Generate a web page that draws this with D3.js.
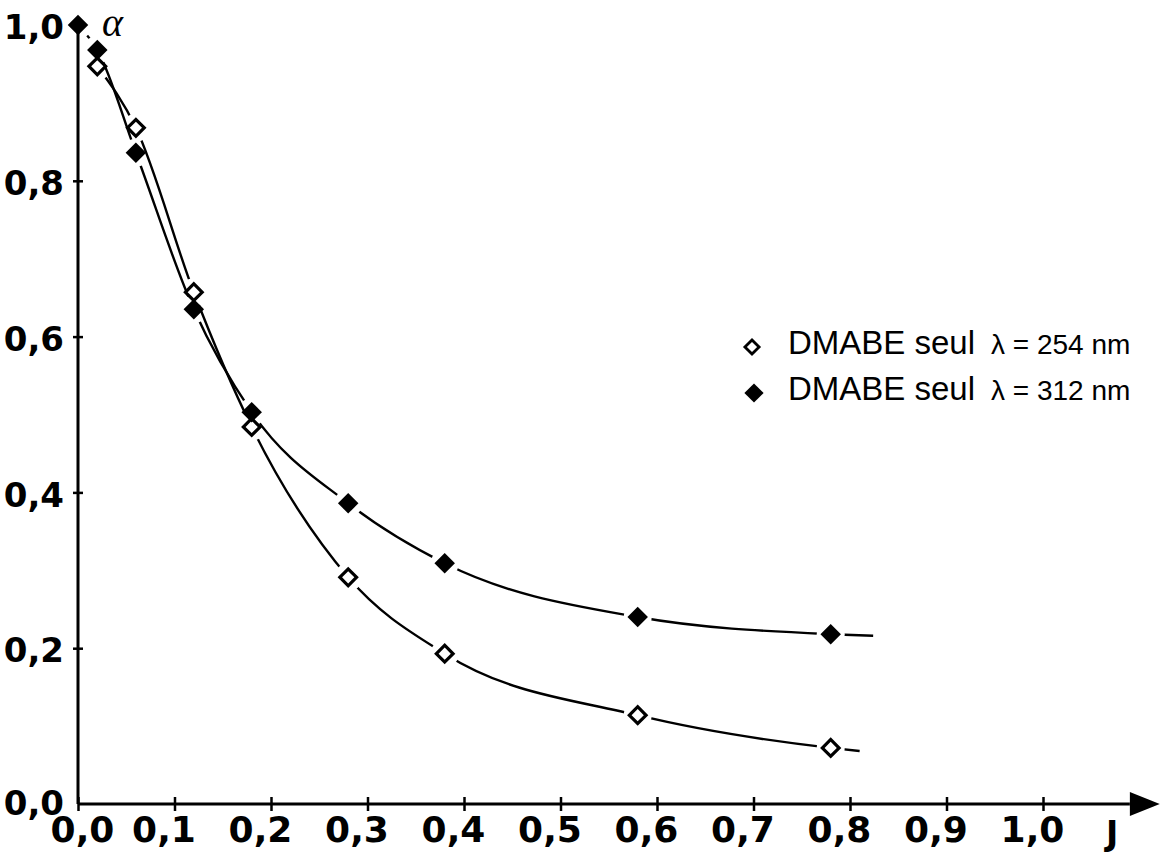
<!DOCTYPE html>
<html>
<head>
<meta charset="utf-8">
<script src="https://cdn.jsdelivr.net/npm/d3@7"></script>
<style>
  body { margin: 0; background: #fff; }
  svg { display: block; }
</style>
</head>
<body>
<svg id="chart" width="1161" height="852"></svg>
<script>
// Axis ticks
const xTickValues = [0, 0.1, 0.2, 0.3, 0.4, 0.5, 0.6, 0.7, 0.8, 0.9, 1.0];
const xTickLabels = ["0,0", "0,1", "0,2", "0,3", "0,4", "0,5", "0,6", "0,7", "0,8", "0,9", "1,0"];
const yTickValues = [0, 0.2, 0.4, 0.6, 0.8, 1.0];
const yTickLabels = ["0,0", "0,2", "0,4", "0,6", "0,8", "1,0"];

// DMABE seul, lambda = 254 nm (open diamonds)
const J_254 = [0.02, 0.06, 0.12, 0.18, 0.28, 0.38, 0.58, 0.78];
const alpha_254 = [0.947, 0.868, 0.657, 0.484, 0.291, 0.193, 0.114, 0.072];
// DMABE seul, lambda = 312 nm (filled diamonds)
const J_312 = [0.0, 0.02, 0.06, 0.12, 0.18, 0.28, 0.38, 0.58, 0.78];
const alpha_312 = [1.0, 0.968, 0.836, 0.635, 0.503, 0.386, 0.309, 0.240, 0.218];

// End of each hand-drawn trend curve, past the last measurement
const tailJ_254 = 0.81, tailAlpha_254 = 0.068;
const tailJ_312 = 0.824, tailAlpha_312 = 0.216;

const legendNames = ["DMABE seul", "DMABE seul"];
const legendWavelengths = ["λ = 254 nm", "λ = 312 nm"];

const svg = d3.select("#chart");
const x = d3.scaleLinear().domain([0, 1]).range([78, 1043]);
const y = d3.scaleLinear().domain([0, 1]).range([804, 25]);

const ink = "#000";
const tickFont = "'DejaVu Sans', sans-serif";

// ---------- axes ----------
// vertical axis line
svg.append("line")
  .attr("x1", x(0)).attr("x2", x(0))
  .attr("y1", y(0)).attr("y2", y(1))
  .attr("stroke", ink).attr("stroke-width", 3);
// horizontal axis line with arrow head
const arrowBase = 1.09, arrowTip = 1.121;
svg.append("line")
  .attr("x1", x(0)).attr("x2", x(arrowBase))
  .attr("y1", y(0)).attr("y2", y(0))
  .attr("stroke", ink).attr("stroke-width", 3);
svg.append("path")
  .attr("d", `M${x(arrowBase)},${y(0) - 12} L${x(arrowTip)},${y(0)} L${x(arrowBase)},${y(0) + 12} Z`)
  .attr("fill", ink);

const xAxis = d3.axisBottom(x)
  .tickValues(xTickValues)
  .tickFormat((d, i) => xTickLabels[i])
  .tickSize(0)
  .tickPadding(0);
const gx = svg.append("g").attr("transform", `translate(0,${y(0)})`).call(xAxis);
gx.select(".domain").remove();
gx.selectAll(".tick line")
  .attr("y1", -7).attr("y2", 7)
  .attr("stroke", ink).attr("stroke-width", 2.5);
gx.selectAll(".tick text")
  .attr("y", 38).attr("dy", 0)
  .attr("x", (d, i) => i === 0 ? 4 : -11)
  .attr("fill", ink)
  .style("font-family", tickFont)
  .style("font-weight", "bold")
  .style("font-size", "36px");

const yAxis = d3.axisLeft(y)
  .tickValues(yTickValues)
  .tickFormat((d, i) => yTickLabels[i])
  .tickSize(0)
  .tickPadding(0);
const gy = svg.append("g").attr("transform", `translate(${x(0)},0)`).call(yAxis);
gy.select(".domain").remove();
gy.selectAll(".tick line")
  .attr("x1", d => (d === 0 || d === 1) ? 0 : -5)
  .attr("x2", d => (d === 0 || d === 1) ? 0 : 5)
  .attr("stroke", ink).attr("stroke-width", 2.5);
gy.selectAll(".tick text")
  .attr("x", -14)
  .attr("dy", d => d === 0 ? "0.3em" : "0.4em")
  .attr("fill", ink)
  .style("font-family", tickFont)
  .style("font-weight", "bold")
  .style("font-size", "34px");

// axis names
svg.append("text")
  .attr("x", x(0) + 24).attr("y", y(1) + 11)
  .attr("fill", ink)
  .style("font-family", "'Liberation Serif', serif")
  .style("font-style", "italic")
  .style("font-size", "40px")
  .text("α");
svg.append("text")
  .attr("x", 1106).attr("y", y(0) + 41)
  .attr("fill", ink)
  .style("font-family", tickFont)
  .style("font-weight", "bold")
  .style("font-size", "33px")
  .text("J");

// ---------- curves ----------
const defs = svg.append("defs");
const gapRadius = 14;

function curveMask(id, Js, alphas) {
  const m = defs.append("mask").attr("id", id).attr("maskUnits", "userSpaceOnUse")
    .attr("x", 0).attr("y", 0).attr("width", 1161).attr("height", 852);
  m.append("rect").attr("width", 1161).attr("height", 852).attr("fill", "#fff");
  m.selectAll("circle").data(Js).join("circle")
    .attr("cx", d => x(d))
    .attr("cy", (d, i) => y(alphas[i]))
    .attr("r", gapRadius)
    .attr("fill", "#000");
}
curveMask("gap254", J_254, alpha_254);
curveMask("gap312", J_312, alpha_312);

const line = d3.line()
  .x(d => x(d[0]))
  .y(d => y(d[1]))
  .curve(d3.curveMonotoneX);

const pts254 = J_254.map((j, i) => [j, alpha_254[i]]).concat([[tailJ_254, tailAlpha_254]]);
const pts312 = J_312.map((j, i) => [j, alpha_312[i]]).concat([[tailJ_312, tailAlpha_312]]);

svg.append("path")
  .attr("d", line(pts254))
  .attr("fill", "none").attr("stroke", ink).attr("stroke-width", 2.4)
  .attr("mask", "url(#gap254)");
svg.append("path")
  .attr("d", line(pts312))
  .attr("fill", "none").attr("stroke", ink).attr("stroke-width", 2.4)
  .attr("mask", "url(#gap312)");

// ---------- markers ----------
const diamondOpen = d3.symbol().type(d3.symbolSquare).size(140);
const diamondFilled = d3.symbol().type(d3.symbolSquare).size(210);

svg.append("g").selectAll("path").data(J_254).join("path")
  .attr("d", diamondOpen())
  .attr("transform", (d, i) => `translate(${x(d)},${y(alpha_254[i])}) rotate(45)`)
  .attr("fill", "#fff").attr("stroke", ink).attr("stroke-width", 3.2);

svg.append("g").selectAll("path").data(J_312).join("path")
  .attr("d", diamondFilled())
  .attr("transform", (d, i) => `translate(${x(d)},${y(alpha_312[i])}) rotate(45)`)
  .attr("fill", ink);

// ---------- legend ----------
const legend = svg.append("g").attr("transform", "translate(752,347)");
const rowGap = 46;
legend.append("path")
  .attr("d", d3.symbol().type(d3.symbolSquare).size(100)())
  .attr("transform", "rotate(45)")
  .attr("fill", "#fff").attr("stroke", ink).attr("stroke-width", 2.8);
legend.append("path")
  .attr("d", d3.symbol().type(d3.symbolSquare).size(185)())
  .attr("transform", `translate(2,${rowGap}) rotate(45)`)
  .attr("fill", ink);

legendNames.forEach((name, i) => {
  const t = legend.append("text")
    .attr("x", 36).attr("y", i * rowGap + 7)
    .attr("fill", ink)
    .style("font-family", "'Liberation Sans', Arial, sans-serif");
  t.append("tspan").style("font-size", "33px").text(name);
  t.append("tspan").attr("dx", 16).style("font-size", "28px").text(legendWavelengths[i]);
});
</script>
</body>
</html>
